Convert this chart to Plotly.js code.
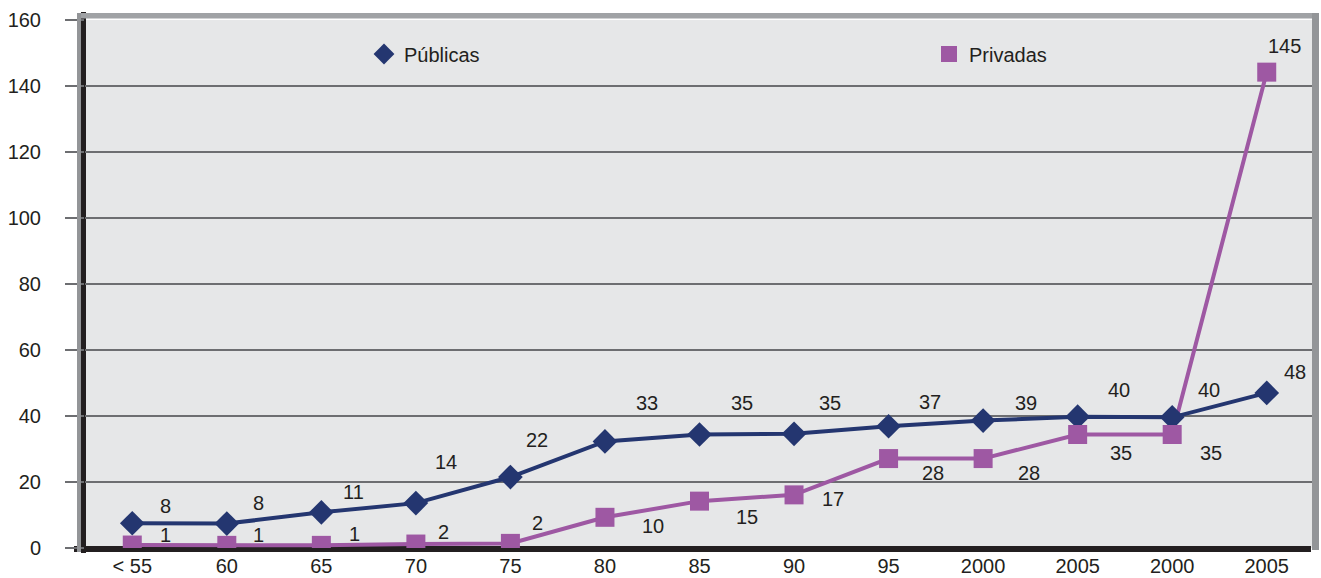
<!DOCTYPE html>
<html>
<head>
<meta charset="utf-8">
<script src="https://cdn.plot.ly/plotly-3.0.1.min.js"></script>
<style>html,body{margin:0;padding:0;background:#fff;}#chart{width:1321px;height:578px;}</style>
</head>
<body>
<div id="chart"></div>
<script>
// ---- data ----
var categories = ["< 55","60","65","70","75","80","85","90","95","2000","2005","2000","2005"];
var publicas = [7.5,7.4,10.8,13.6,21.5,32.3,34.4,34.6,36.9,38.6,39.8,39.6,47.0];
var privadas = [0.9,0.8,0.8,1.2,1.4,9.3,14.2,16.1,27.1,27.1,34.4,34.4,144.2];
var publicasLabels = ["8","8","11","14","22","33","35","35","37","39","40","40","48"];
var privadasLabels = ["1","1","1","2","2","10","15","17","28","28","35","35","145"];
var yTicks = [0,20,40,60,80,100,120,140,160];

// ---- label offsets (pixels, styling only) ----
var pubDx = [33,32,32,30,27,42,42,36,41,43,41,37,28];
var pubDy = [17,21,20,41,37,38,31,31,24,18,27,27,21];
var privDx = [33,32,33,28,27,48,47,39,44,46,43,39,18];
var privDy = [10,10,11,12,20,-9,-16,-4,-14,-14,-19,-19,26];

var idx = categories.map(function(_, i){ return i; });
var bounds = idx.slice(0, idx.length - 1).map(function(i){ return i - 0.5; });

var NAVY = "#243670", PURPLE = "#9e58a3", TXT = "#231f20", GRID = "#6d6e71";
var FONT = "Liberation Sans, Arial, Helvetica, sans-serif";
var FS = 20;

var L = 85, R = 7, T = 20, B = 30, W = 1321 - L - R, H = 578 - T - B;
function px(p){ return (p - L) / W; }
function py(p){ return (578 - B - p) / H; }

var traces = [
  {x: idx, y: publicas, mode: "lines", line: {color: NAVY, width: 4}, showlegend: false, hoverinfo: "skip"},
  {x: idx, y: privadas, mode: "lines", line: {color: PURPLE, width: 4}, showlegend: false, hoverinfo: "skip"},
  {x: idx, y: publicas, mode: "markers", name: "Públicas", legend: "legend",
    marker: {symbol: "diamond", size: 19, color: NAVY}},
  {x: idx, y: privadas, mode: "markers", name: "Privadas", legend: "legend2",
    marker: {symbol: "square", size: 19, color: PURPLE}}
];

var annotations = [];
idx.forEach(function(i){
  annotations.push({x: i, y: publicas[i], text: publicasLabels[i], showarrow: false,
    xshift: pubDx[i], yshift: pubDy[i], font: {family: FONT, size: FS, color: TXT}});
  annotations.push({x: i, y: privadas[i], text: privadasLabels[i], showarrow: false,
    xshift: privDx[i], yshift: privDy[i], font: {family: FONT, size: FS, color: TXT}});
});

var shapes = [
  {type: "rect", xref: "paper", yref: "paper", x0: px(77), x1: px(1319), y0: py(13), y1: py(18.5), fillcolor: "#a0a2a5", line: {width: 0}, layer: "above"},
  {type: "rect", xref: "paper", yref: "paper", x0: px(1312), x1: px(1319), y0: py(13), y1: py(550), fillcolor: "#939598", line: {width: 0}, layer: "above"},
  {type: "rect", xref: "paper", yref: "paper", x0: px(77), x1: px(81), y0: py(13), y1: py(552), fillcolor: "#939598", line: {width: 0}, layer: "above"},
  {type: "rect", xref: "paper", yref: "paper", x0: px(81), x1: px(86), y0: py(12), y1: py(553), fillcolor: "#231f20", line: {width: 0}, layer: "between"},
  {type: "rect", xref: "paper", yref: "paper", x0: px(74), x1: px(1311), y0: py(546), y1: py(552), fillcolor: "#231f20", line: {width: 0}, layer: "between"}
];

var legendCommon = {orientation: "h", xanchor: "left", yanchor: "middle", y: py(54),
  bgcolor: "rgba(0,0,0,0)", borderwidth: 0, font: {family: FONT, size: FS, color: TXT},
  itemclick: false, itemdoubleclick: false};

var layout = {
  width: 1321, height: 578,
  margin: {l: L, r: R, t: T, b: B, pad: 0},
  paper_bgcolor: "#ffffff",
  plot_bgcolor: "#e6e7e8",
  font: {family: FONT, size: FS, color: TXT},
  showlegend: true,
  legend: Object.assign({}, legendCommon, {x: px(364)}),
  legend2: Object.assign({}, legendCommon, {x: px(929)}),
  xaxis: {range: [-0.5, 12.5], tickmode: "array", tickvals: idx, ticktext: categories,
    ticks: "", showgrid: false, zeroline: false, showline: false,
    tickfont: {family: FONT, size: FS, color: TXT}, ticklabelstandoff: 4, fixedrange: true},
  xaxis2: {overlaying: "x", anchor: "y", side: "bottom", range: [-0.5, 12.5], tickmode: "array",
    tickvals: bounds, ticks: "outside", ticklen: 10, tickwidth: 2.5, tickcolor: "#231f20",
    showticklabels: false, showgrid: false, zeroline: false, showline: false},
  yaxis: {range: [0, 160], tickmode: "array", tickvals: yTicks, ticks: "outside", ticklen: 19,
    tickwidth: 2.5, tickcolor: GRID, showgrid: true, gridcolor: GRID, gridwidth: 2.5,
    zeroline: false, showline: false, tickfont: {family: FONT, size: FS, color: TXT},
    ticklabelstandoff: 20, fixedrange: true},
  shapes: shapes,
  annotations: annotations
};

Plotly.newPlot("chart", traces, layout, {displayModeBar: false, staticPlot: true});
</script>
</body>
</html>
